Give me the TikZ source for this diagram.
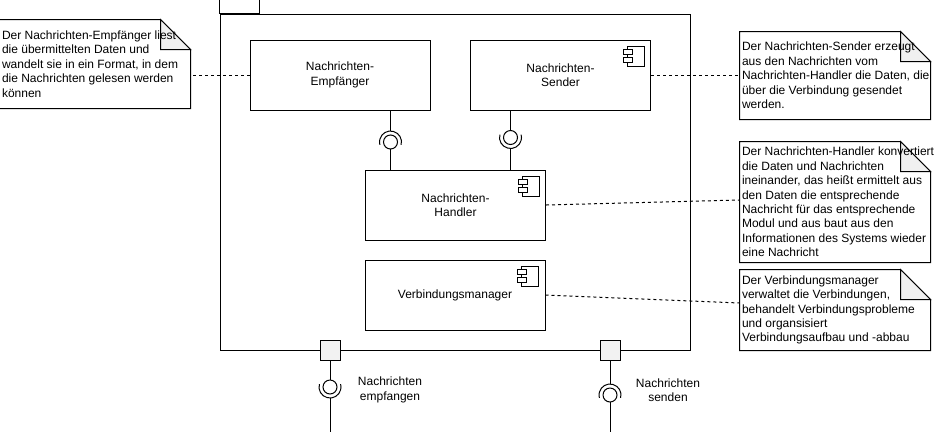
\documentclass[tikz,border=0pt]{standalone}
\usepackage{fontspec}
\setmainfont{Liberation Sans}
\begin{document}
\begin{tikzpicture}[x=1pt,y=-1pt,line width=1pt,
  every node/.style={font=\fontsize{12pt}{14.4pt}\selectfont},
  box/.style={draw,rectangle,inner sep=0pt,minimum width=180pt,minimum height=70pt,align=center,fill=white},
  notebox/.style={rectangle,inner sep=0pt,minimum width=190pt},
  notetext/.style={anchor=west,align=left,inner sep=0pt},
  port/.style={draw,rectangle,inner sep=0pt,minimum size=20pt,fill=gray!10},
  foldfill/.style={fill=gray!12},
  conn/.style={dashed,dash pattern=on 3pt off 3pt},
  compicon/.pic={
    \draw[fill=white] (-24pt,-7pt) rectangle (-7pt,-27pt);
    \draw[fill=white] (-28pt,-10pt) rectangle (-19pt,-15pt);
    \draw[fill=white] (-28pt,-18pt) rectangle (-19pt,-23pt);
  }]
\useasboundingbox (0,0) rectangle (941,432);

% package
\node[draw,rectangle,inner sep=0pt,minimum width=470pt,minimum height=336pt] (pkg) at (455,182) {};
\draw (pkg.north west) rectangle ++(40pt,14pt);

% components
\node[box] (emp) at (340,75) {Nachrichten-\\Empfänger};
\node[box] (snd) at (560.5,75) {Nachrichten-\\Sender};
\pic at (snd.north east) {compicon};
\node[box] (hdl) at (455.5,205) {Nachrichten-\\Handler};
\pic at (hdl.north east) {compicon};
\node[box] (vm) at (455,295) {Verbindungsmanager};
\pic at (vm.north east) {compicon};

% ports
\node[port] (p1) at (330,350) {};
\node[port] (p2) at (610,350) {};

% internal interfaces
\coordinate (i1) at (390.5,142);
\coordinate (i2) at (510.5,137.5);
\draw (i1) circle[radius=7pt];
\draw ([shift={(-15:11pt)}]i1) arc[start angle=-15,end angle=195,radius=11pt];
\draw (emp.south -| i1) -- ([yshift=11pt]i1);
\draw ([yshift=-7pt]i1) -- (hdl.north -| i1);
\draw (i2) circle[radius=7pt];
\draw ([shift={(165:11pt)}]i2) arc[start angle=165,end angle=375,radius=11pt];
\draw (snd.south -| i2) -- ([yshift=7pt]i2);
\draw ([yshift=-11pt]i2) -- (hdl.north -| i2);

% external interfaces
\coordinate (i3) at (330,387);
\coordinate (i4) at (610,395);
\coordinate (e1) at (330,432);
\coordinate (e2) at (610,432);
\draw (i3) circle[radius=7pt];
\draw ([shift={(165:11pt)}]i3) arc[start angle=165,end angle=375,radius=11pt];
\draw (p1.south) -- ([yshift=7pt]i3);
\draw ([yshift=-11pt]i3) -- (e1);
\draw (i4) circle[radius=7pt];
\draw ([shift={(-15:11pt)}]i4) arc[start angle=-15,end angle=195,radius=11pt];
\draw (p2.south) -- ([yshift=11pt]i4);
\draw ([yshift=-7pt]i4) -- (e2);
\node[align=center,inner sep=0pt] (l1) at (390,390) {Nachrichten\\empfangen};
\node[align=center,inner sep=0pt] (l2) at (668,390) {Nachrichten\\senden};

% notes
\node[notebox,minimum height=88pt] (n1) at (95,64) {};
\node[notebox,minimum height=87pt] (n2) at (835,75.5) {};
\node[notebox,minimum height=120pt] (n3) at (835,202) {};
\node[notebox,minimum height=80pt] (n4) at (835,310) {};
\foreach \n in {n1,n2,n3,n4}{
  \draw[fill=white] (\n.south west) -- (\n.north west) -- ([xshift=-30pt]\n.north east) -- ([yshift=-30pt]\n.north east) -- (\n.south east) -- cycle;
  \draw[foldfill] ([xshift=-30pt]\n.north east) -- ([xshift=-30pt,yshift=-30pt]\n.north east) -- ([yshift=-30pt]\n.north east) -- cycle;
}
\node[notetext] (t1) at ([xshift=2pt]n1.west) {Der Nachrichten-Empfänger liest\\die übermittelten Daten und\\wandelt sie in ein Format, in dem\\die Nachrichten gelesen werden\\können};
\node[notetext] (t2) at ([xshift=2pt]n2.west) {Der Nachrichten-Sender erzeugt\\aus den Nachrichten vom\\Nachrichten-Handler die Daten, die\\über die Verbindung gesendet\\werden.};
\node[notetext] (t3) at ([xshift=2pt]n3.west) {Der Nachrichten-Handler konvertiert\\die Daten und Nachrichten\\ineinander, das heißt ermittelt aus\\den Daten die entsprechende\\Nachricht für das entsprechende\\Modul und aus baut aus den\\Informationen des Systems wieder\\eine Nachricht};
\node[notetext] (t4) at ([xshift=2pt]n4.west) {Der Verbindungsmanager\\verwaltet die Verbindungen,\\behandelt Verbindungsprobleme\\und organsisiert\\Verbindungsaufbau und -abbau};

% note connectors
\draw[conn] (emp.west) -- (n1.east |- emp.west);
\draw[conn] (snd.east) -- (n2.west |- snd.east);
\draw[conn] (hdl.east) -- ([yshift=2pt]n3.west);
\draw[conn] (vm.east) -- ([yshift=7pt]n4.west);
\end{tikzpicture}
\end{document}
